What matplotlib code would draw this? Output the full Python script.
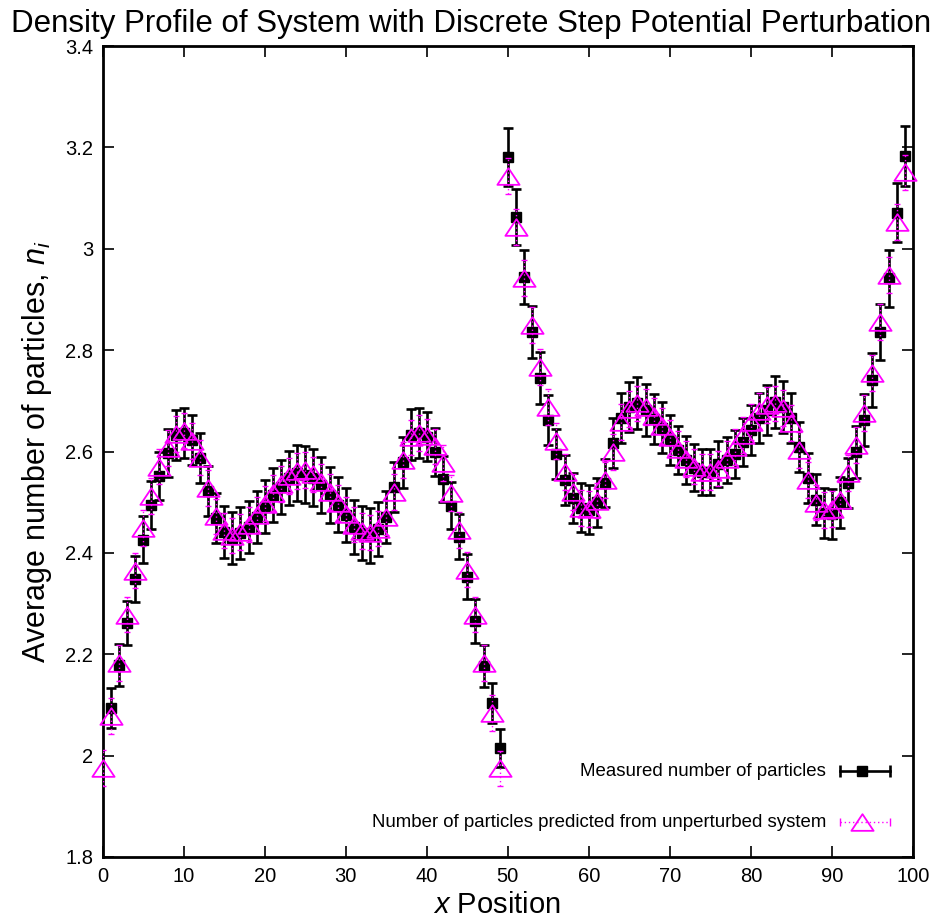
import numpy as np
import matplotlib
matplotlib.use("Agg")
import matplotlib.pyplot as plt
from matplotlib.path import Path

plt.rcParams['font.family'] = ['Liberation Sans', 'DejaVu Sans']
plt.rcParams['mathtext.fontset'] = 'custom'
plt.rcParams['mathtext.it'] = 'Liberation Sans:italic'
plt.rcParams['mathtext.rm'] = 'Liberation Sans'

title = "Density Profile of System with Discrete Step Potential Perturbation"
xlabel = "$x$ Position"
ylabel = "Average number of particles, $n_i$"
measured_label = "Measured number of particles"
predicted_label = "Number of particles predicted from unperturbed system"

measured_x = list(range(1, 100))
measured_n = [
    2.094, 2.179, 2.262, 2.349, 2.426, 2.495, 2.552, 2.597, 2.633, 2.637,
    2.623, 2.587, 2.522, 2.469, 2.441, 2.430, 2.439, 2.451, 2.471, 2.491,
    2.514, 2.530, 2.548, 2.558, 2.554, 2.548, 2.534, 2.514, 2.495, 2.475,
    2.451, 2.439, 2.435, 2.447, 2.471, 2.530, 2.579, 2.633, 2.637, 2.629,
    2.599, 2.546, 2.493, 2.432, 2.353, 2.266, 2.177, 2.104, 2.015,
    3.181, 3.063, 2.944, 2.836, 2.745, 2.662, 2.595, 2.544, 2.508, 2.489,
    2.485, 2.500, 2.538, 2.617, 2.666, 2.688, 2.696, 2.682, 2.664, 2.647,
    2.623, 2.603, 2.583, 2.568, 2.560, 2.560, 2.575, 2.583, 2.595, 2.619,
    2.643, 2.666, 2.682, 2.698, 2.688, 2.666, 2.609, 2.548, 2.505, 2.479,
    2.477, 2.500, 2.538, 2.599, 2.662, 2.741, 2.836, 2.942, 3.071, 3.183,
]
measured_err = [
    0.040, 0.042, 0.044, 0.045, 0.046, 0.047, 0.048, 0.048, 0.049, 0.049,
    0.049, 0.050, 0.050, 0.050, 0.051, 0.051, 0.051, 0.052, 0.052, 0.052,
    0.053, 0.053, 0.054, 0.055, 0.056, 0.056, 0.055, 0.055, 0.054, 0.054,
    0.054, 0.054, 0.054, 0.053, 0.052, 0.050, 0.050, 0.050, 0.049, 0.048,
    0.047, 0.046, 0.046, 0.045, 0.044, 0.043, 0.042, 0.040, 0.038,
    0.057, 0.055, 0.053, 0.052, 0.051, 0.050, 0.050, 0.049, 0.049, 0.048,
    0.048, 0.048, 0.048, 0.049, 0.050, 0.050, 0.051, 0.051, 0.050, 0.050,
    0.049, 0.048, 0.047, 0.046, 0.045, 0.045, 0.045, 0.046, 0.047, 0.048,
    0.049, 0.050, 0.050, 0.051, 0.051, 0.050, 0.050, 0.050, 0.050, 0.050,
    0.050, 0.050, 0.050, 0.051, 0.052, 0.053, 0.055, 0.056, 0.058, 0.060,
]
predicted_x = list(range(0, 100))
predicted_n = [
    1.976, 2.078, 2.183, 2.278, 2.365, 2.449, 2.512, 2.570, 2.607, 2.635,
    2.641, 2.621, 2.588, 2.528, 2.472, 2.444, 2.434, 2.441, 2.456, 2.475,
    2.497, 2.518, 2.536, 2.552, 2.562, 2.564, 2.555, 2.540, 2.520, 2.498,
    2.476, 2.456, 2.443, 2.440, 2.448, 2.470, 2.520, 2.583, 2.628, 2.637,
    2.630, 2.610, 2.577, 2.518, 2.445, 2.367, 2.278, 2.183, 2.084, 1.975,
    3.144, 3.043, 2.942, 2.850, 2.767, 2.688, 2.621, 2.560, 2.520, 2.489,
    2.487, 2.503, 2.544, 2.599, 2.658, 2.684, 2.695, 2.688, 2.670, 2.650,
    2.628, 2.605, 2.585, 2.570, 2.560, 2.560, 2.566, 2.585, 2.609, 2.633,
    2.658, 2.680, 2.692, 2.695, 2.686, 2.656, 2.603, 2.544, 2.499, 2.485,
    2.487, 2.505, 2.558, 2.613, 2.676, 2.755, 2.856, 2.948, 3.053, 3.151,
]
predicted_err = 0.035

xticks = [0, 10, 20, 30, 40, 50, 60, 70, 80, 90, 100]
yticks = [1.8, 2.0, 2.2, 2.4, 2.6, 2.8, 3.0, 3.2, 3.4]
ytick_labels = ["1.8", "2", "2.2", "2.4", "2.6", "2.8", "3", "3.2", "3.4"]

MAG = "#ff00ff"
tri = Path([(-1.0, -0.75), (1.0, -0.75), (0.0, 0.75), (-1.0, -0.75)],
           [Path.MOVETO, Path.LINETO, Path.LINETO, Path.CLOSEPOLY])

fig = plt.figure(figsize=(9.43, 9.21), dpi=100)
ax = fig.add_axes([0.109, 0.0695, 0.859, 0.8805])

ax.errorbar(measured_x, measured_n, yerr=measured_err, fmt='s', color='black',
            ms=7.5, elinewidth=1.9, capsize=3.8, capthick=1.9, zorder=2)
eb = ax.errorbar(predicted_x, predicted_n, yerr=predicted_err, fmt='none',
                 ecolor=MAG, elinewidth=1.0, capsize=2.5, capthick=1.0, zorder=3)
for lc in eb[2]:
    lc.set_linestyle((0, (1, 2)))
ax.plot(predicted_x, predicted_n, linestyle='none', marker=tri, ms=16,
        mfc='none', mec=MAG, mew=1.3, zorder=4, clip_on=False)

ax.set_xlim(0, 100)
ax.set_ylim(1.8, 3.4)
ax.set_xticks(xticks)
ax.set_yticks(yticks)
ax.set_yticklabels(ytick_labels)
ax.tick_params(direction='in', length=8, width=1.2, top=True, right=True,
               labelsize=14.5, pad=7)
for s in ax.spines.values():
    s.set_linewidth(2)

ax.set_xlabel(xlabel, fontsize=21, va='center')
ax.xaxis.set_label_coords(0.486, -0.059)
ax.set_ylabel(ylabel, fontsize=22, labelpad=8)
fig.text(0.5, 0.974, title, ha='center', va='center', fontsize=22.5)

# manual gnuplot-style key
tx = 0.893
x0, x1, xm = 0.910, 0.972, 0.937
y1, y2 = 0.106, 0.043
ax.text(tx, y1, measured_label, transform=ax.transAxes, ha='right',
        va='center', fontsize=13.4)
ax.text(tx, y2, predicted_label, transform=ax.transAxes, ha='right',
        va='center', fontsize=13.4)
ax.plot([x0, x1], [y1, y1], transform=ax.transAxes, color='black', lw=1.9,
        clip_on=False)
ax.plot([x0, x1], [y1, y1], transform=ax.transAxes, color='black',
        linestyle='none', marker='|', ms=8, mew=1.9, clip_on=False)
ax.plot([xm], [y1], transform=ax.transAxes, color='black', marker='s', ms=7.5,
        clip_on=False)
ax.plot([x0, x1], [y2, y2], transform=ax.transAxes, color=MAG, lw=1.0,
        linestyle=(0, (1, 2)), clip_on=False)
ax.plot([x0, x1], [y2, y2], transform=ax.transAxes, color=MAG,
        linestyle='none', marker='|', ms=6, mew=1.0, clip_on=False)
ax.plot([xm], [y2], transform=ax.transAxes, linestyle='none', marker=tri,
        ms=16, mfc='none', mec=MAG, mew=1.3, clip_on=False)

fig.savefig("out.png", dpi=100)
